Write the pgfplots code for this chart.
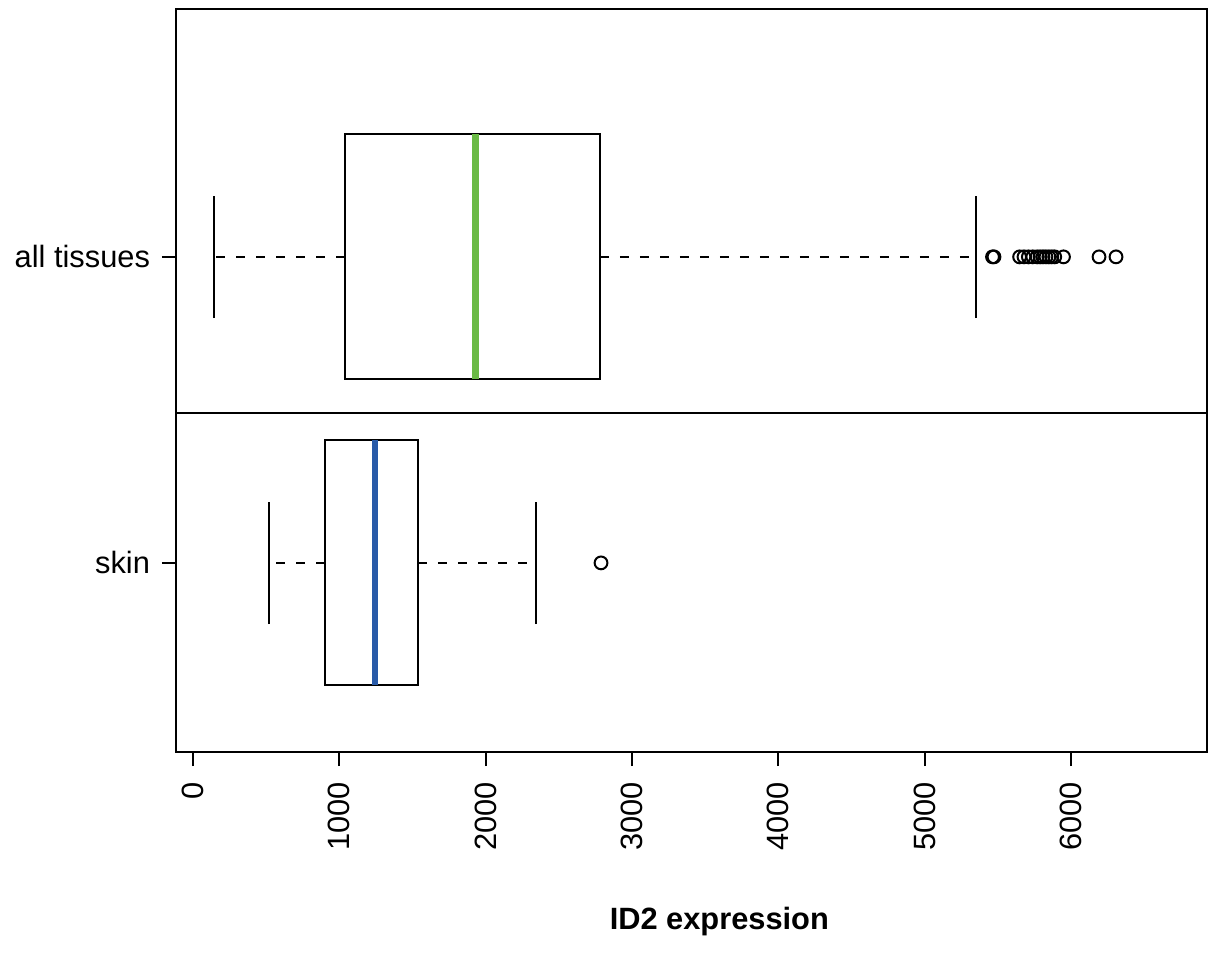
\documentclass[border=0pt]{standalone}
\usepackage{pgfplots}
\pgfplotsset{compat=1.18}
\usepgfplotslibrary{statistics}
\usepackage{fontspec}
\setmainfont{Liberation Sans}
\definecolor{medgreen}{RGB}{106,186,69}
\definecolor{medblue}{RGB}{40,90,168}
\begin{document}
\begin{tikzpicture}
\pgfplotsset{
  boxplot/draw/whisker/.code 2 args={%
    \draw[dash pattern=on 4.5bp off 5.5bp, line width=1bp, black] (boxplot cs:#1) -- (boxplot cs:#2);
    \draw[line width=1bp, black] (boxplot whisker cs:#2,0) -- (boxplot whisker cs:#2,1);
  },
}
\begin{axis}[
  scale only axis,
  width=515.5bp, height=371.5bp,
  xmin=-116, xmax=6931,
  ymin=0.382, ymax=2.81,
  font=\fontsize{15.4bp}{18bp}\selectfont,
  axis line style={line width=1.25bp, black},
  tick align=outside,
  major tick length=7bp,
  tick style={black, line width=1bp},
  xtick pos=bottom, ytick pos=left,
  xtick={0,1000,2000,3000,4000,5000,6000},
  xticklabels={0,1000,2000,3000,4000,5000,6000},
  xticklabel style={rotate=90, anchor=east, xshift=-4.5bp},
  ytick={1,2},
  yticklabels={skin,all tissues},
  yticklabel style={xshift=-2.5bp},
  xlabel={\bfseries ID2 expression},
  xlabel style={at={(axis description cs:0.527,0)}, anchor=base, yshift=-88.5bp},
  boxplot/box extend=0.8,
  boxplot/whisker extend=0.4,
]
\coordinate (O) at (rel axis cs:0,0);
\draw[line width=1bp, black] (rel axis cs:0,0.4556) -- (rel axis cs:1,0.4556);
% all tissues
\addplot[black, line width=1bp, mark=o, mark size=3.2bp, mark options={solid, line width=1bp, black},
  boxplot prepared={lower whisker=144, lower quartile=1039, median=1928,
    upper quartile=2782, upper whisker=5352, draw position=2,
    every median/.style={line width=3.5bp, medgreen}}]
  table[row sep=\\, y index=0] {data\\ 5465\\ 5475\\ 5650\\ 5680\\ 5710\\ 5740\\ 5770\\ 5790\\ 5810\\ 5830\\ 5850\\ 5870\\ 5890\\ 5950\\ 6193\\ 6309\\};
% skin
\addplot[black, line width=1bp, mark=o, mark size=3.2bp, mark options={solid, line width=1bp, black},
  boxplot prepared={lower whisker=519, lower quartile=902, median=1244,
    upper quartile=1538, upper whisker=2345, draw position=1,
    every median/.style={line width=3bp, medblue}}]
  table[row sep=\\, y index=0] {data\\ 2789\\};
\end{axis}
\pgfresetboundingbox
\path ([shift={(-88bp,-105bp)}]O) rectangle ([shift={(516bp,376bp)}]O);
\end{tikzpicture}
\end{document}
